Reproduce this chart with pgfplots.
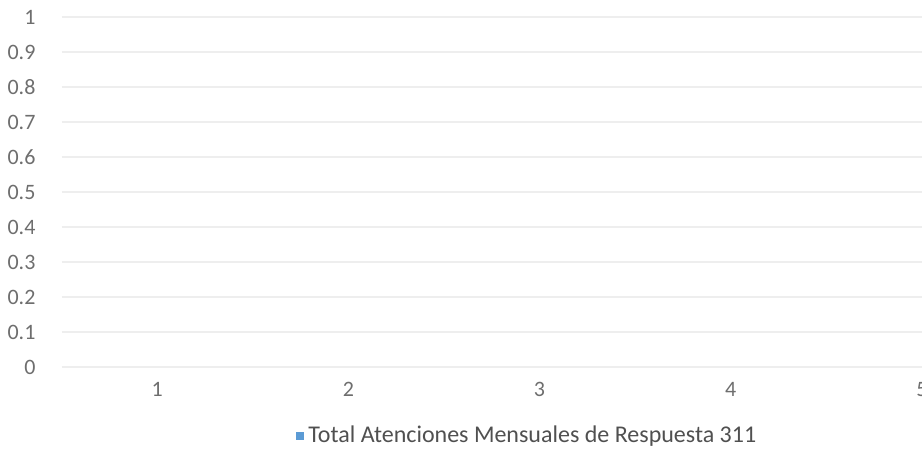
\documentclass[border=0pt]{standalone}
\usepackage{fontspec}
\setmainfont{Carlito}
\usepackage{pgfplots}
\pgfplotsset{compat=1.18}
\definecolor{barblue}{RGB}{91,155,213}
\definecolor{ticktext}{RGB}{110,110,110}
\definecolor{legtext}{RGB}{80,80,80}
\definecolor{gridgray}{RGB}{238,238,238}
\begin{document}
\begin{tikzpicture}
\begin{axis}[
    name=ax,
    scale only axis,
    width=430.25pt, height=175pt,
    xmin=0.5, xmax=5.0,
    ymin=0, ymax=1,
    ytick={0,0.1,...,1.01},
    xtick={1,2,3,4,5},
    ymajorgrids,
    grid style={gridgray, line width=0.6pt},
    axis line style={draw=none},
    major tick length=0pt,
    tick label style={font=\fontsize{11}{13}\selectfont, text=ticktext},
    /pgf/number format/assume math mode=true,
    yticklabel style={xshift=-9.5pt},
    xticklabel style={yshift=-4pt},
    clip=false,
    ybar, bar width=40pt,
    legend style={draw=none, fill=none, inner sep=0pt,
        at={(rel axis cs:0.2725,-0.197)}, anchor=west,
        font=\fontsize{12}{14}\selectfont, text=legtext},
    legend image code/.code={\fill[barblue] (0pt,-2pt) rectangle (4pt,2pt);},
]
\addplot[fill=none, draw=none] coordinates {(1,0) (2,0) (3,0) (4,0) (5,0)};
\addlegendentry{Total Atenciones Mensuales de Respuesta 311}
\end{axis}
\pgfresetboundingbox
\path ([xshift=-30.75pt,yshift=-42.5pt]ax.south west) rectangle ([yshift=8.5pt]ax.north east);
\end{tikzpicture}
\end{document}
